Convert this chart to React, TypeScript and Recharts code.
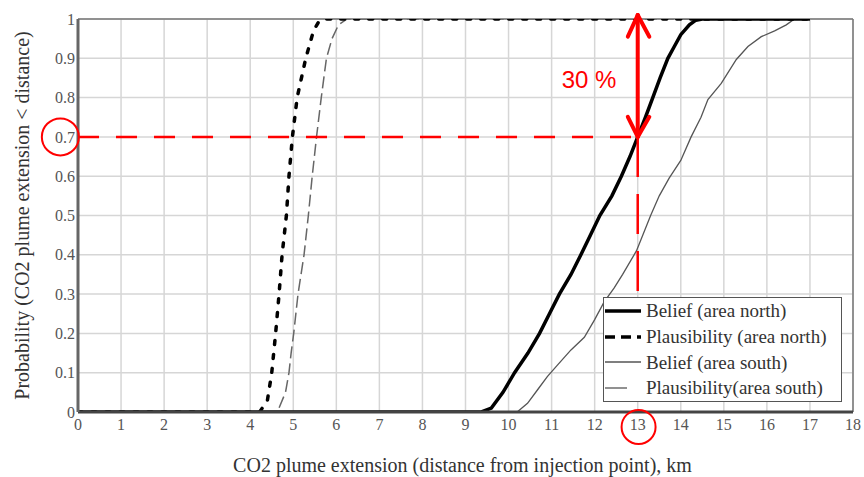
import React from 'react';
import { LineChart, Line, XAxis, YAxis, CartesianGrid, ReferenceLine, ReferenceDot, Legend, Label } from 'recharts';

const SERIF = '"Liberation Serif", "Times New Roman", serif';
const SANS = '"Liberation Sans", Arial, sans-serif';
const RED = '#ff0000';

// axis ticks
const X_TICKS = [0, 1, 2, 3, 4, 5, 6, 7, 8, 9, 10, 11, 12, 13, 14, 15, 16, 17, 18];
const Y_TICKS = [0, 0.1, 0.2, 0.3, 0.4, 0.5, 0.6, 0.7, 0.8, 0.9, 1];

const X_LABEL = 'CO2 plume extension (distance from injection point), km';
const Y_LABEL = 'Probability (CO2 plume extension < distance)';

const SERIES_NAMES = ['Belief (area north)', 'Plausibility (area north)', 'Belief (area south)', 'Plausibility(area south)'];

// Belief (area north)
const beliefNorthX = [0, 9.37, 9.6, 9.87, 10.14, 10.45, 10.72, 10.95, 11.18, 11.45, 11.68, 11.9, 12.12, 12.4, 12.62, 12.82, 13.0, 13.18, 13.35, 13.52, 13.7, 13.85, 14.0, 14.2, 14.35, 14.5, 17];
const beliefNorthY = [0, 0, 0.01, 0.05, 0.1, 0.15, 0.2, 0.25, 0.3, 0.35, 0.4, 0.45, 0.5, 0.55, 0.6, 0.65, 0.7, 0.75, 0.8, 0.85, 0.9, 0.93, 0.96, 0.985, 0.997, 1, 1];

// Plausibility (area north)
const plausNorthX = [0, 4.22, 4.4, 4.5, 4.59, 4.67, 4.74, 4.84, 4.9, 4.98, 5.09, 5.29, 5.47, 5.6, 5.75, 17];
const plausNorthY = [0, 0, 0.03, 0.1, 0.2, 0.3, 0.4, 0.5, 0.6, 0.7, 0.8, 0.9, 0.97, 0.995, 1, 1];

// Belief (area south)
const beliefSouthX = [0, 10.2, 10.44, 10.67, 10.9, 11.14, 11.45, 11.76, 12.0, 12.22, 12.45, 12.65, 12.97, 13.3, 13.5, 13.73, 14.0, 14.24, 14.47, 14.63, 14.94, 15.29, 15.56, 15.87, 16.18, 16.45, 16.64, 17];
const beliefSouthY = [0, 0, 0.022, 0.056, 0.09, 0.12, 0.158, 0.19, 0.235, 0.28, 0.315, 0.35, 0.41, 0.5, 0.55, 0.595, 0.64, 0.7, 0.75, 0.795, 0.836, 0.897, 0.93, 0.955, 0.97, 0.985, 1, 1];

// Plausibility (area south)
const plausSouthX = [0, 4.63, 4.82, 4.9, 4.95, 5.01, 5.11, 5.25, 5.35, 5.44, 5.54, 5.65, 5.77, 5.9, 6.05, 6.25, 17];
const plausSouthY = [0, 0, 0.05, 0.1, 0.15, 0.2, 0.3, 0.4, 0.5, 0.6, 0.7, 0.8, 0.9, 0.95, 0.985, 1, 1];

// annotation values
const MARK_X = 13;
const MARK_P = 0.7;
const GAP_LABEL = '30 %';

const toPoints = (xs: number[], ys: number[]) => xs.map((x, i) => ({ x, p: ys[i] }));

const LEGEND_STYLES = [
  { stroke: '#000', width: 3.5, dash: undefined, len: 36 },
  { stroke: '#000', width: 3.5, dash: '10 6', len: 36 },
  { stroke: '#555', width: 1.3, dash: undefined, len: 36 },
  { stroke: '#555', width: 1.3, dash: undefined, len: 22 },
];

const LegendBox = () => (
  <div style={{ border: '1.5px solid #555', background: '#fff', width: 237, fontFamily: SERIF, fontSize: 19, color: '#333' }}>
    {SERIES_NAMES.map((name, i) => {
      const s = LEGEND_STYLES[i];
      return (
        <div key={name} style={{ display: 'flex', alignItems: 'center', height: 25.7 }}>
          <svg width={40} height={10} style={{ flex: 'none' }}>
            <line x1={1} x2={1 + s.len} y1={5} y2={5} stroke={s.stroke} strokeWidth={s.width} strokeDasharray={s.dash} />
          </svg>
          <span style={{ marginLeft: 2, whiteSpace: 'nowrap', lineHeight: '25px' }}>{name}</span>
        </div>
      );
    })}
  </div>
);

const YTitle = (props: any) => {
  const vb = props.viewBox;
  const cx = 22;
  const cy = vb.y + vb.height / 2;
  return (
    <text x={cx} y={cy} transform={`rotate(-90, ${cx}, ${cy})`} textAnchor="middle" dominantBaseline="central"
      fontFamily={SERIF} fontSize={20} fill="#333">{Y_LABEL}</text>
  );
};

const XTitle = (props: any) => {
  const vb = props.viewBox;
  return (
    <text x={vb.x + vb.width / 2 - 3} y={472} textAnchor="middle" fontFamily={SERIF} fontSize={20} fill="#333">{X_LABEL}</text>
  );
};

const GapText = (props: any) => (
  <text x={props.cx} y={props.cy} textAnchor="middle" dominantBaseline="central" fontFamily={SANS} fontSize={24} fill={RED}>{GAP_LABEL}</text>
);

export default function App() {
  const redLine = { stroke: RED, strokeWidth: 2.5 };
  const arrow = { stroke: RED, strokeWidth: 4, strokeLinecap: 'round' as const, ifOverflow: 'visible' as const };
  return (
    <div style={{ position: 'absolute', left: 0, top: 0, width: 864, height: 477, background: '#fff' }}>
      <LineChart width={864} height={477} margin={{ top: 19, right: 11, bottom: 0, left: 0 }} style={{ fontFamily: SERIF }}>
        <CartesianGrid stroke="#d6d6d6" strokeWidth={1.5} />
        <XAxis dataKey="x" type="number" domain={[0, 18]} ticks={X_TICKS} allowDataOverflow height={65}
          tickLine={false} tickSize={0} tickMargin={7} axisLine={{ stroke: '#444', strokeWidth: 3 }}
          tick={{ fontSize: 16, fill: '#555', fontFamily: SERIF }}>
          <Label content={XTitle} />
        </XAxis>
        <YAxis dataKey="p" type="number" domain={[0, 1]} ticks={Y_TICKS} allowDataOverflow width={78}
          tickLine={false} tickSize={0} tickMargin={3} axisLine={{ stroke: '#666', strokeWidth: 3 }}
          tickFormatter={(v: number) => String(v)}
          tick={{ fontSize: 16, fill: '#555', fontFamily: SERIF }}>
          <Label content={YTitle} />
        </YAxis>
        <ReferenceLine y={1} stroke="#777" strokeWidth={1.5} />
        <ReferenceLine x={18} stroke="#777" strokeWidth={1.5} />

        <Line data={toPoints(plausSouthX, plausSouthY)} dataKey="p" name={SERIES_NAMES[3]} type="linear" stroke="#666"
          strokeWidth={1.5} strokeDasharray="12 5" dot={false} activeDot={false} isAnimationActive={false} />
        <Line data={toPoints(beliefSouthX, beliefSouthY)} dataKey="p" name={SERIES_NAMES[2]} type="linear" stroke="#555"
          strokeWidth={1.3} dot={false} activeDot={false} isAnimationActive={false} />
        <Line data={toPoints(plausNorthX, plausNorthY)} dataKey="p" name={SERIES_NAMES[1]} type="linear" stroke="#000"
          strokeWidth={3.5} strokeDasharray="4 10" strokeLinecap="round" dot={false} activeDot={false} isAnimationActive={false} />
        <Line data={toPoints(beliefNorthX, beliefNorthY)} dataKey="p" name={SERIES_NAMES[0]} type="linear" stroke="#000"
          strokeWidth={3.5} dot={false} activeDot={false} isAnimationActive={false} />

        <ReferenceLine segment={[{ x: 0, y: MARK_P }, { x: MARK_X, y: MARK_P }]} {...redLine} strokeDasharray="21 17" />
        <ReferenceLine segment={[{ x: MARK_X, y: MARK_P }, { x: MARK_X, y: 0.28 }]} {...redLine} strokeDasharray="40 17" />

        <ReferenceLine segment={[{ x: MARK_X, y: MARK_P }, { x: MARK_X, y: 1.01 }]} {...arrow} />
        <ReferenceLine segment={[{ x: 12.77, y: 0.955 }, { x: MARK_X, y: 1.01 }]} {...arrow} />
        <ReferenceLine segment={[{ x: 13.27, y: 0.955 }, { x: MARK_X, y: 1.01 }]} {...arrow} />
        <ReferenceLine segment={[{ x: 12.77, y: 0.751 }, { x: MARK_X, y: MARK_P }]} {...arrow} />
        <ReferenceLine segment={[{ x: 13.27, y: 0.751 }, { x: MARK_X, y: MARK_P }]} {...arrow} />

        <ReferenceDot x={11.87} y={0.847} r={0} shape={GapText} ifOverflow="visible" />
        <ReferenceDot x={-0.41} y={MARK_P} r={18.5} fill="none" stroke={RED} strokeWidth={2} ifOverflow="visible" />
        <ReferenceDot x={13.02} y={-0.038} r={17} fill="none" stroke={RED} strokeWidth={2} ifOverflow="visible" />

        <Legend layout="vertical" align="center" verticalAlign="middle" content={() => <LegendBox />}
          wrapperStyle={{ left: 603, top: 297, width: 'auto', height: 'auto' }} />
      </LineChart>
    </div>
  );
}
